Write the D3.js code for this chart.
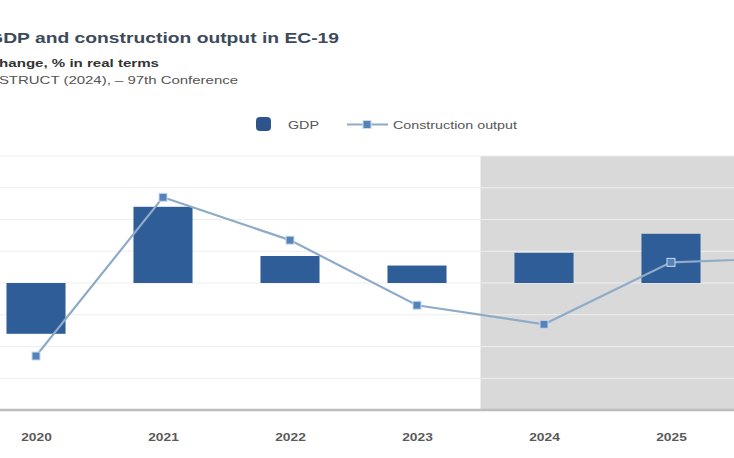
<!DOCTYPE html>
<html><head><meta charset="utf-8">
<script src="https://cdn.jsdelivr.net/npm/d3@7"></script>
<style>body{margin:0;background:#fff;overflow:hidden}svg{display:block}</style>
</head><body>
<svg id="c" width="734" height="458"></svg>
<script>
const years = [2020, 2021, 2022, 2023, 2024, 2025, 2026];
const labelYears = [2020, 2021, 2022, 2023, 2024, 2025];
const gdp = [-3.2, 4.8, 1.7, 1.1, 1.9, 3.1, null];
const construction = [-4.6, 5.4, 2.7, -1.4, -2.6, 1.3, 1.6];
const yTicks = [-8, -6, -4, -2, 0, 2, 4, 6, 8];
const forecastFrom = 2024;

const svg = d3.select("#c");
const W = 734;
const x = d3.scalePoint().domain(years).range([36, 798]);
const step = x.step();
const barW = step * 0.465;
const y = d3.scaleLinear().domain([-8, 8]).range([410, 156]);

// forecast shading
svg.append("rect")
  .attr("x", x(forecastFrom) - step / 2).attr("y", y(8))
  .attr("width", W - (x(forecastFrom) - step / 2))
  .attr("height", y(-8) - y(8))
  .attr("fill", "#d9d9d9");

// gridlines
svg.append("g").selectAll("line").data(yTicks.slice(1)).join("line")
  .attr("x1", 0).attr("x2", W)
  .attr("y1", d => y(d)).attr("y2", d => y(d))
  .attr("stroke", "#eeeeee").attr("stroke-width", 1);

// bars
svg.append("g").selectAll("rect").data(years.map((yr, i) => ({yr, v: gdp[i]})).filter(d => d.v != null))
  .join("rect")
  .attr("x", d => x(d.yr) - barW / 2)
  .attr("width", barW)
  .attr("y", d => y(Math.max(0, d.v)))
  .attr("height", d => Math.abs(y(d.v) - y(0)))
  .attr("fill", "#2f5d98");

// axis line
svg.append("line").attr("x1", 0).attr("x2", W).attr("y1", y(-8)).attr("y2", y(-8))
  .attr("stroke", "#bdbdbd").attr("stroke-width", 2.5);

// construction line
const pts = years.map((yr, i) => ({yr, v: construction[i]}));
svg.append("path").datum(pts)
  .attr("d", d3.line().x(d => x(d.yr)).y(d => y(d.v)))
  .attr("fill", "none").attr("stroke", "#8eabc8").attr("stroke-width", 2.2);
svg.append("g").selectAll("rect").data(pts).join("rect")
  .attr("x", d => x(d.yr) - 4).attr("y", d => y(d.v) - 4)
  .attr("width", 8).attr("height", 8)
  .attr("fill", "#5582b8").attr("stroke", "#c9dbee").attr("stroke-width", 1);

// x tick labels
const xAxis = d3.axisBottom(x).tickValues(labelYears).tickSize(0).tickPadding(0);
const gx = svg.append("g").attr("transform", `translate(0,${y(-8)})`).call(xAxis);
gx.select(".domain").remove();
gx.selectAll("text")
  .attr("y", 0).attr("dy", 0)
  .attr("transform", "translate(0,31) scale(1.25,1)")
  .attr("font-family", "Liberation Sans, Arial, sans-serif")
  .attr("font-size", 11).attr("font-weight", "bold").attr("fill", "#5a5a5a");

// titles
function txt(str, xEnd, yPos, size, weight, color, sx) {
  svg.append("text").attr("transform", `translate(${xEnd},${yPos}) scale(${sx},1)`)
    .attr("text-anchor", "end")
    .attr("font-family", "Liberation Sans, Arial, sans-serif")
    .attr("font-size", size).attr("font-weight", weight).attr("fill", color)
    .text(str);
}
txt("GDP and construction output in EC-19", 339, 43, 14.5, "bold", "#3d4a5a", 1.33);
txt("Annual change, % in real terms", 159, 67, 11, "bold", "#333", 1.37);
txt("Source: EUROCONSTRUCT (2024), – 97th Conference", 238, 84, 11, "normal", "#555", 1.36);

// legend
const lg = svg.append("g");
lg.append("rect").attr("x", 256).attr("y", 117).attr("width", 15).attr("height", 14).attr("rx", 4)
  .attr("fill", "#2d558c");
lg.append("text").attr("transform", "translate(288,129) scale(1.3,1)")
  .attr("font-family", "Liberation Sans, Arial, sans-serif").attr("font-size", 11).attr("fill", "#555").text("GDP");
lg.append("line").attr("x1", 347).attr("x2", 388).attr("y1", 124.5).attr("y2", 124.5)
  .attr("stroke", "#8eabc8").attr("stroke-width", 2.2);
lg.append("rect").attr("x", 363).attr("y", 120.5).attr("width", 8).attr("height", 8)
  .attr("fill", "#5582b8").attr("stroke", "#c9dbee");
lg.append("text").attr("transform", "translate(393,129) scale(1.3,1)")
  .attr("font-family", "Liberation Sans, Arial, sans-serif").attr("font-size", 11).attr("fill", "#555").text("Construction output");
</script>
</body></html>
